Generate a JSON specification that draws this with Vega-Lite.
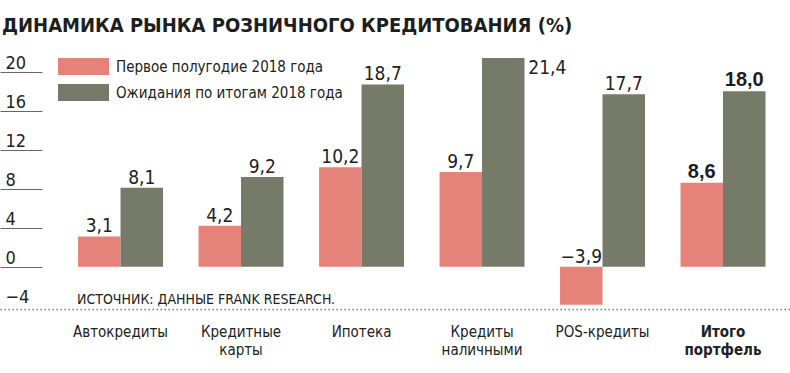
{
  "$schema": "https://vega.github.io/schema/vega-lite/v6.json",
  "width": 790,
  "height": 373,
  "autosize": {"type": "none"},
  "padding": 0,
  "background": "white",
  "config": {
    "view": {"stroke": null},
    "locale": {"number": {"decimal": ",", "thousands": " ", "grouping": [3], "currency": ["", ""], "minus": "−"}},
    "font": "Liberation Sans Narrow, DejaVu Sans Condensed, sans-serif"
  },
  "title": {
    "text": "ДИНАМИКА РЫНКА РОЗНИЧНОГО КРЕДИТОВАНИЯ (%)",
    "anchor": "start",
    "frame": "group",
    "offset": -36,
    "dx": 2,
    "font": "Liberation Sans Narrow, DejaVu Sans Condensed, sans-serif",
    "fontSize": 20,
    "fontWeight": "bold",
    "color": "#1e1e1e"
  },
  "datasets": {
    "bars": [
      {"cat": "Автокредиты", "series": "Первое полугодие 2018 года", "value": 3.1},
      {"cat": "Автокредиты", "series": "Ожидания по итогам 2018 года", "value": 8.1},
      {"cat": "Кредитные карты", "series": "Первое полугодие 2018 года", "value": 4.2},
      {"cat": "Кредитные карты", "series": "Ожидания по итогам 2018 года", "value": 9.2},
      {"cat": "Ипотека", "series": "Первое полугодие 2018 года", "value": 10.2},
      {"cat": "Ипотека", "series": "Ожидания по итогам 2018 года", "value": 18.7},
      {"cat": "Кредиты наличными", "series": "Первое полугодие 2018 года", "value": 9.7},
      {"cat": "Кредиты наличными", "series": "Ожидания по итогам 2018 года", "value": 21.4},
      {"cat": "POS-кредиты", "series": "Первое полугодие 2018 года", "value": -3.9},
      {"cat": "POS-кредиты", "series": "Ожидания по итогам 2018 года", "value": 17.7},
      {"cat": "Итого портфель", "series": "Первое полугодие 2018 года", "value": 8.6},
      {"cat": "Итого портфель", "series": "Ожидания по итогам 2018 года", "value": 18.0}
    ]
  },
  "encoding": {
    "x": {
      "field": "cat",
      "type": "nominal",
      "sort": null,
      "scale": {"paddingInner": 0.295, "paddingOuter": 0.4256, "align": 0.761},
      "axis": {
        "title": null,
        "orient": "bottom",
        "offset": -64,
        "ticks": false,
        "labelAngle": 0,
        "labelExpr": "split(datum.label, ' ')",
        "labelFontSize": 15,
        "labelLineHeight": 18,
        "labelBaseline": "top",
        "labelPadding": 15,
        "labelColor": "#222",
        "labelFontWeight": {"condition": {"test": "datum.value == 'Итого портфель'", "value": "bold"}, "value": "normal"},
        "domainColor": "#777",
        "domainWidth": 1.3,
        "domainDash": [1.5, 2.5]
      }
    },
    "xOffset": {
      "field": "series",
      "type": "nominal",
      "sort": ["Первое полугодие 2018 года", "Ожидания по итогам 2018 года"],
      "scale": {"paddingInner": 0, "paddingOuter": 0}
    }
  },
  "layer": [
    {
      "data": {"name": "bars"},
      "mark": {"type": "bar"},
      "encoding": {
        "y": {
          "field": "value",
          "type": "quantitative",
          "scale": {"domain": [-10.903, 27.354], "nice": false, "zero": false},
          "axis": {
            "title": null,
            "orient": "left",
            "values": [-4, 0, 4, 8, 12, 16, 20],
            "offset": -42,
            "tickSize": 42,
            "tickColor": "#666",
            "tickWidth": 1,
            "tickOpacity": {"condition": {"test": "datum.value < 0", "value": 0}, "value": 1},
            "domain": false,
            "grid": false,
            "labelAlign": "left",
            "labelBaseline": "alphabetic",
            "labelPadding": -5,
            "labelOffset": -3.5,
            "labelFontSize": 18,
            "labelColor": "#222",
            "labelFlush": false,
            "labelOverlap": false
          }
        },
        "color": {
          "field": "series",
          "type": "nominal",
          "sort": ["Первое полугодие 2018 года", "Ожидания по итогам 2018 года"],
          "scale": {"range": ["#E5837A", "#767A68"]},
          "legend": {
            "title": null,
            "orient": "none",
            "legendX": 75,
            "legendY": 58,
            "symbolType": "M-3,-1H3V1H-3Z",
            "symbolSize": 289,
            "symbolStrokeWidth": 0,
            "symbolOpacity": 1,
            "labelFontSize": 15,
            "labelColor": "#222",
            "labelOffset": 24,
            "labelLimit": 0,
            "rowPadding": 9
          }
        }
      }
    },
    {
      "data": {"name": "bars"},
      "transform": [{"filter": "datum.value >= 0 && datum.value <= 20 && datum.cat != 'Итого портфель'"}],
      "mark": {"type": "text", "baseline": "alphabetic", "dy": -4, "fontSize": 19, "color": "#222"},
      "encoding": {
        "y": {"field": "value", "type": "quantitative"},
        "text": {"field": "value", "type": "quantitative", "format": ".1f"}
      }
    },
    {
      "data": {"name": "bars"},
      "transform": [{"filter": "datum.value < 0"}],
      "mark": {"type": "text", "baseline": "alphabetic", "dy": -4, "fontSize": 19, "color": "#222"},
      "encoding": {
        "y": {"datum": 0},
        "text": {"field": "value", "type": "quantitative", "format": ".1f"}
      }
    },
    {
      "data": {"name": "bars"},
      "transform": [{"filter": "datum.value > 20"}],
      "mark": {"type": "text", "baseline": "alphabetic", "align": "left", "dx": 25, "dy": 16, "fontSize": 19, "color": "#222"},
      "encoding": {
        "y": {"field": "value", "type": "quantitative"},
        "text": {"field": "value", "type": "quantitative", "format": ".1f"}
      }
    },
    {
      "data": {"name": "bars"},
      "transform": [{"filter": "datum.cat == 'Итого портфель'"}],
      "mark": {"type": "text", "baseline": "alphabetic", "dy": -5, "fontSize": 20, "fontWeight": "bold", "font": "Liberation Sans, Arial, sans-serif", "color": "#1e1e1e"},
      "encoding": {
        "y": {"field": "value", "type": "quantitative"},
        "text": {"field": "value", "type": "quantitative", "format": ".1f"}
      }
    },
    {
      "data": {"values": [{"t": "ИСТОЧНИК: ДАННЫЕ FRANK RESEARCH."}]},
      "mark": {"type": "text", "align": "left", "baseline": "alphabetic", "dx": -43.5, "fontSize": 14, "color": "#222"},
      "encoding": {
        "x": {"datum": "Автокредиты"},
        "xOffset": null,
        "y": {"datum": -3.83},
        "text": {"field": "t", "type": "nominal"}
      }
    },
    {
      "mark": {"type": "rule", "color": "#333", "strokeWidth": 1.5},
      "encoding": {"x": null, "xOffset": null, "y": {"datum": 0}}
    },
    {
      "mark": {"type": "rule", "color": "#222", "strokeWidth": 4},
      "encoding": {"x": null, "xOffset": null, "y": {"datum": 27.15}}
    },
    {
      "mark": {"type": "rule", "color": "#8a8a8a", "strokeWidth": 1.2},
      "encoding": {"x": null, "xOffset": null, "y": {"datum": 23.2}}
    },
    {
      "mark": {"type": "rule", "color": "#333", "strokeWidth": 3},
      "encoding": {"x": null, "xOffset": null, "y": {"datum": -10.69}}
    }
  ]
}
